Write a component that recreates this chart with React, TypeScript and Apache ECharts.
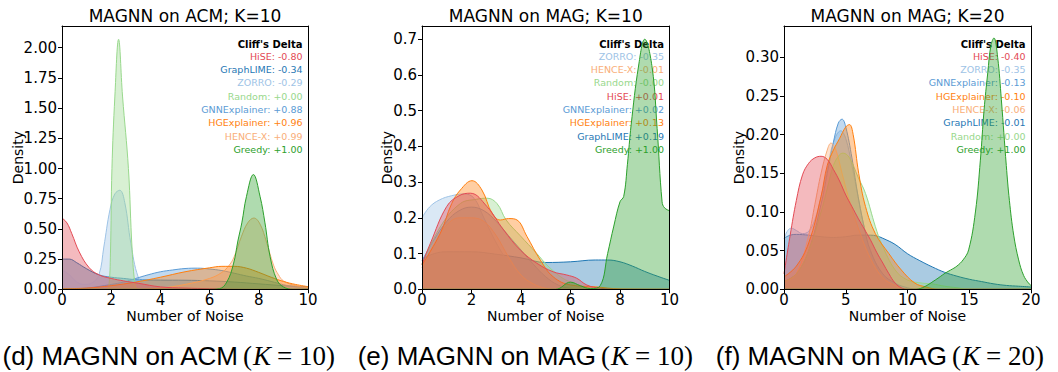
import React, { useEffect, useRef } from "react";
import * as echarts from "echarts";

// ---------- DATA ----------
// drawing order (first drawn at the bottom)
const methods = ["GraphLIME", "ZORRO", "GNNExplainer", "HENCE-X", "Random", "HGExplainer", "HiSE", "Greedy"];

// Panel (d): MAGNN on ACM, K=10
const acmHiSE = [[0,0.59],[0.2,0.55],[0.4,0.46],[0.7,0.31],[1.1,0.18],[1.5,0.12],[2,0.09],[2.5,0.07],[3.1,0.05],[4,0.02],[5,0.01],[6,0.005],[7,0.001],[8,0],[10,0]];
const acmGraphLIME = [[0,0.25],[0.3,0.25],[0.6,0.22],[1,0.17],[1.5,0.12],[2,0.1],[2.5,0.09],[3,0.08],[4,0.076],[5,0.075],[6,0.07],[7,0.06],[8,0.045],[9,0.03],[10,0.02]];
const acmZORRO = [[0,0.16],[0.3,0.12],[0.6,0.06],[0.9,0.04],[1.2,0.05],[1.5,0.12],[1.7,0.35],[1.95,0.66],[2.15,0.79],[2.35,0.82],[2.55,0.72],[2.8,0.38],[3.1,0.1],[3.4,0.03],[4,0.01],[5,0.002],[6,0],[10,0]];
const acmRandom = [[0,0],[1.8,0],[1.9,0.02],[1.97,0.3],[2.03,1.0],[2.15,1.6],[2.3,2.07],[2.46,1.6],[2.7,1.0],[2.85,0.33],[2.98,0.03],[3.1,0],[10,0]];
const acmGNNExplainer = [[0,0],[1,0.01],[2,0.04],[2.5,0.06],[3,0.09],[3.5,0.12],[4,0.145],[4.5,0.16],[5,0.172],[5.5,0.175],[6,0.168],[6.5,0.155],[7,0.133],[7.5,0.11],[8,0.09],[8.5,0.065],[9,0.038],[9.5,0.02],[10,0.01]];
const acmHGExplainer = [[0,0.005],[1,0.01],[2,0.03],[3,0.06],[4,0.1],[5,0.145],[6,0.178],[6.5,0.19],[7,0.19],[7.5,0.175],[8,0.14],[8.5,0.1],[9,0.065],[9.5,0.04],[10,0.022]];
const acmHENCEX = [[0,0],[3,0],[4,0.01],[5,0.04],[6,0.09],[6.5,0.14],[6.8,0.2],[7,0.27],[7.3,0.44],[7.55,0.55],[7.8,0.59],[8.05,0.54],[8.3,0.4],[8.6,0.2],[8.8,0.12],[9,0.07],[9.5,0.03],[10,0.015]];
const acmGreedy = [[0,0],[6,0],[6.4,0.005],[6.7,0.06],[6.97,0.21],[7.15,0.4],[7.31,0.55],[7.5,0.77],[7.78,0.95],[8.05,0.77],[8.25,0.55],[8.46,0.27],[8.73,0.08],[9,0.02],[9.4,0],[10,0]];
const acmLegendNames = ["HiSE", "GraphLIME", "ZORRO", "Random", "GNNExplainer", "HGExplainer", "HENCE-X", "Greedy"];
const acmLegendValues = ["-0.80", "-0.34", "-0.29", "+0.00", "+0.88", "+0.96", "+0.99", "+1.00"];

// Panel (e): MAGNN on MAG, K=10
const magZORRO = [[0,0.2],[0.3,0.23],[0.7,0.25],[1.2,0.262],[1.7,0.267],[2.1,0.255],[2.5,0.2],[3,0.13],[3.5,0.075],[4,0.035],[4.5,0.012],[5,0.004],[5.5,0],[10,0]];
const magHENCEX = [[0,0.06],[0.5,0.13],[1,0.18],[1.5,0.2],[2,0.2],[2.5,0.19],[3,0.15],[3.5,0.09],[4,0.04],[4.5,0.015],[5,0.003],[5.5,0],[10,0]];
const magRandom = [[0,0.07],[0.74,0.175],[1.55,0.24],[2.2,0.252],[2.63,0.255],[3.03,0.24],[3.4,0.194],[3.97,0.15],[4.64,0.1],[5.05,0.068],[5.6,0.035],[6,0.02],[6.5,0.008],[7,0.002],[7.5,0],[10,0]];
const magHiSE = [[0,0.07],[0.34,0.129],[1,0.232],[1.5,0.262],[1.95,0.269],[2.62,0.232],[3.3,0.166],[3.97,0.11],[4.64,0.073],[5.3,0.049],[5.85,0.04],[6.25,0.031],[6.66,0.012],[7.2,0.003],[8,0],[10,0]];
const magGNNExplainer = [[0,0.08],[0.5,0.14],[1,0.19],[1.5,0.22],[2,0.23],[2.5,0.22],[3,0.19],[3.5,0.15],[4,0.11],[4.5,0.07],[5,0.035],[5.5,0.012],[6,0.003],[6.5,0],[10,0]];
const magHGExplainer = [[0,0.068],[0.74,0.157],[1.2,0.24],[1.55,0.278],[2.02,0.304],[2.42,0.278],[2.83,0.213],[3.16,0.194],[3.5,0.198],[3.84,0.194],[4.24,0.148],[4.78,0.082],[5.3,0.035],[6,0.012],[7,0.007],[8,0.001],[10,0]];
const magGraphLIME = [[0,0.085],[0.5,0.1],[1,0.105],[2,0.105],[3,0.098],[4,0.088],[5,0.075],[6,0.077],[7,0.082],[7.5,0.082],[8,0.077],[8.5,0.065],[9,0.05],[9.5,0.037],[10,0.025]];
const magGreedy = [[0,0],[5.4,0],[6,0.02],[6.4,0.01],[6.8,0.002],[7.2,0.01],[7.5,0.1],[7.75,0.177],[8.0,0.245],[8.15,0.26],[8.3,0.35],[8.45,0.46],[8.75,0.625],[9,0.7],[9.3,0.62],[9.5,0.45],[9.7,0.245],[9.8,0.228],[10,0.22]];
const magLegendNames = ["ZORRO", "HENCE-X", "Random", "HiSE", "GNNExplainer", "HGExplainer", "GraphLIME", "Greedy"];
const magLegendValues = ["-0.35", "-0.01", "-0.00", "+0.01", "+0.02", "+0.13", "+0.19", "+1.00"];

// Panel (f): MAGNN on MAG, K=20
const m20HiSE = [[0,0.02],[0.5,0.07],[1,0.115],[1.5,0.148],[2,0.163],[2.5,0.17],[3,0.172],[3.5,0.168],[4,0.155],[4.5,0.14],[5,0.122],[5.5,0.107],[6,0.092],[6.5,0.078],[7,0.064],[7.5,0.048],[8,0.034],[8.5,0.02],[9,0.008],[9.5,0.002],[10,0],[20,0]];
const m20ZORRO = [[0,0.065],[0.3,0.076],[0.6,0.079],[1,0.076],[1.5,0.072],[2,0.075],[2.5,0.09],[3,0.12],[3.5,0.155],[4,0.19],[4.6,0.205],[5,0.195],[5.5,0.16],[6,0.12],[6.5,0.08],[7,0.05],[7.5,0.03],[8,0.015],[9,0.005],[10,0],[20,0]];
const m20GNNExplainer = [[0,0.01],[1,0.02],[2,0.05],[3,0.11],[3.5,0.15],[4,0.19],[4.4,0.215],[4.7,0.22],[5,0.21],[5.5,0.17],[6,0.12],[6.5,0.08],[7,0.05],[8,0.02],[9,0.008],[10,0.002],[11,0],[20,0]];
const m20HGExplainer = [[0,0.016],[1,0.03],[2,0.06],[3,0.12],[3.5,0.16],[4,0.18],[4.5,0.195],[5,0.21],[5.3,0.213],[5.6,0.2],[6.05,0.15],[6.6,0.107],[7.4,0.072],[8.5,0.046],[9.5,0.025],[10.6,0.008],[11.5,0.003],[12.5,0],[20,0]];
const m20HENCEX = [[0,0.01],[1,0.02],[2,0.07],[2.5,0.11],[3,0.15],[3.5,0.18],[3.8,0.189],[4.2,0.18],[4.7,0.15],[5.2,0.12],[6,0.08],[7,0.04],[8,0.015],[9,0.005],[10,0],[20,0]];
const m20GraphLIME = [[0,0.066],[0.5,0.07],[1,0.071],[2,0.07],[3,0.068],[4,0.067],[5,0.068],[6,0.07],[7,0.07],[7.5,0.069],[8,0.066],[9,0.058],[10,0.046],[11,0.037],[12,0.029],[13,0.022],[14,0.017],[15,0.013],[16,0.01],[17,0.007],[18,0.005],[19,0.004],[20,0.003]];
const m20Random = [[0,0.01],[1,0.02],[2,0.05],[3,0.1],[3.5,0.13],[4,0.16],[4.5,0.174],[4.8,0.176],[5.3,0.17],[6,0.145],[6.6,0.124],[7.4,0.081],[7.9,0.059],[9,0.025],[10,0.012],[11.2,0.008],[12,0.007],[13,0.004],[14,0.002],[15,0],[20,0]];
const m20Greedy = [[0,0],[10.5,0],[11.2,0.002],[12.25,0.012],[13.06,0.021],[13.5,0.025],[14,0.03],[14.5,0.038],[14.95,0.051],[15.5,0.1],[15.9,0.167],[16.2,0.232],[16.5,0.28],[16.75,0.315],[17,0.325],[17.3,0.3],[17.6,0.245],[18,0.16],[18.25,0.115],[18.6,0.07],[19,0.038],[19.4,0.018],[19.8,0.008],[20,0.005]];
const m20LegendNames = ["HiSE", "ZORRO", "GNNExplainer", "HGExplainer", "HENCE-X", "GraphLIME", "Random", "Greedy"];
const m20LegendValues = ["-0.40", "-0.35", "-0.13", "-0.10", "-0.06", "-0.01", "+0.00", "+1.00"];

const xTicks10 = [0, 2, 4, 6, 8, 10];
const xTicks20 = [0, 5, 10, 15, 20];
const acmYTicks = [0, 0.25, 0.5, 0.75, 1.0, 1.25, 1.5, 1.75, 2.0];
const magYTicks = [0, 0.1, 0.2, 0.3, 0.4, 0.5, 0.6, 0.7];
const m20YTicks = [0, 0.05, 0.1, 0.15, 0.2, 0.25, 0.3];

const titles = ["MAGNN on ACM; K=10", "MAGNN on MAG; K=10", "MAGNN on MAG; K=20"];
const captionLabels = ["(d) MAGNN on ACM", "(e) MAGNN on MAG", "(f) MAGNN on MAG"];
const captionK = ["10", "10", "20"];

// ---------- STYLE ----------
const COLORS: Record<string, string> = {
  HiSE: "#e34a54",
  GraphLIME: "#1f77b4",
  ZORRO: "#9ec3e6",
  Random: "#98d88c",
  GNNExplainer: "#5b9bd5",
  HGExplainer: "#ff7f0e",
  "HENCE-X": "#f9ae78",
  Greedy: "#2ca02c",
};

const panels = [
  {
    curves: { HiSE: acmHiSE, GraphLIME: acmGraphLIME, ZORRO: acmZORRO, Random: acmRandom, GNNExplainer: acmGNNExplainer, HGExplainer: acmHGExplainer, "HENCE-X": acmHENCEX, Greedy: acmGreedy } as Record<string, number[][]>,
    xMax: 10, xTicks: xTicks10, yMax: 2.18, yTicks: acmYTicks, digits: 2,
    names: acmLegendNames, values: acmLegendValues,
    left: 62, right: 308, nameGap: 37, capSplit: 243,
  },
  {
    curves: { HiSE: magHiSE, GraphLIME: magGraphLIME, ZORRO: magZORRO, Random: magRandom, GNNExplainer: magGNNExplainer, HGExplainer: magHGExplainer, "HENCE-X": magHENCEX, Greedy: magGreedy } as Record<string, number[][]>,
    xMax: 10, xTicks: xTicks10, yMax: 0.737, yTicks: magYTicks, digits: 1,
    names: magLegendNames, values: magLegendValues,
    left: 422, right: 669.5, nameGap: 28, capSplit: 601,
  },
  {
    curves: { HiSE: m20HiSE, GraphLIME: m20GraphLIME, ZORRO: m20ZORRO, Random: m20Random, GNNExplainer: m20GNNExplainer, HGExplainer: m20HGExplainer, "HENCE-X": m20HENCEX, Greedy: m20Greedy } as Record<string, number[][]>,
    xMax: 20, xTicks: xTicks20, yMax: 0.3405, yTicks: m20YTicks, digits: 2,
    names: m20LegendNames, values: m20LegendValues,
    left: 784, right: 1031, nameGap: 38, capSplit: 952,
  },
];

const TOP = 26;
const BOTTOM = 289.3;
const FONT = "DejaVu Sans";
const CAP_Y = 356;

export default function App() {
  const ref = useRef<HTMLDivElement>(null);
  useEffect(() => {
    if (!ref.current) return;
    const chart = echarts.init(ref.current, null, { renderer: "svg" });
    const grid: any[] = [];
    const xAxis: any[] = [];
    const yAxis: any[] = [];
    const series: any[] = [];
    const graphic: any[] = [];

    panels.forEach((p, i) => {
      grid.push({ left: p.left, top: TOP, width: p.right - p.left, height: BOTTOM - TOP, show: false, containLabel: false });
      const axisLine = { show: true, onZero: false, lineStyle: { color: "#000", width: 1 } };
      xAxis.push({
        type: "value", gridIndex: i, min: 0, max: p.xMax, position: "bottom", z: 30,
        name: "Number of Noise", nameLocation: "middle", nameGap: 20, nameMoveOverlap: false,
        nameTextStyle: { fontFamily: FONT, fontSize: 14, color: "#000" },
        axisLine,
        axisTick: { show: true, length: 4, inside: false, customValues: p.xTicks, lineStyle: { color: "#000" } },
        axisLabel: { show: true, customValues: p.xTicks, margin: 3, fontFamily: FONT, fontSize: 15, color: "#000" },
        splitLine: { show: false },
      });
      xAxis.push({
        type: "value", gridIndex: i, min: 0, max: p.xMax, position: "top", z: 30,
        axisLine, axisTick: { show: false }, axisLabel: { show: false }, splitLine: { show: false },
      });
      yAxis.push({
        type: "value", gridIndex: i, min: 0, max: p.yMax, position: "left", z: 30,
        name: "Density", nameLocation: "middle", nameGap: p.nameGap, nameMoveOverlap: false,
        nameTextStyle: { fontFamily: FONT, fontSize: 14, color: "#000" },
        axisLine,
        axisTick: { show: true, length: 4, inside: false, customValues: p.yTicks, lineStyle: { color: "#000" } },
        axisLabel: {
          show: true, customValues: p.yTicks, margin: 5, fontFamily: FONT, fontSize: 15, color: "#000",
          formatter: (v: number) => v.toFixed(p.digits),
        },
        splitLine: { show: false },
      });
      yAxis.push({
        type: "value", gridIndex: i, min: 0, max: p.yMax, position: "right", z: 30,
        axisLine, axisTick: { show: false }, axisLabel: { show: false }, splitLine: { show: false },
      });

      methods.forEach((m, k) => {
        series.push({
          type: "line",
          name: m + i,
          xAxisIndex: i * 2,
          yAxisIndex: i * 2,
          data: p.curves[m],
          smooth: 0.4,
          showSymbol: false,
          symbol: "none",
          silent: true,
          z: 2 + k,
          lineStyle: { color: COLORS[m], width: 1 },
          itemStyle: { color: COLORS[m] },
          areaStyle: { color: COLORS[m], opacity: 0.38 },
        });
      });

      // title
      graphic.push({
        type: "text", x: (p.left + p.right) / 2, y: 15.7, z: 1,
        style: { text: titles[i], fontFamily: FONT, fontSize: 17, fill: "#000", textAlign: "center", textVerticalAlign: "middle" },
      });
      // Cliff's delta annotation
      const rx = p.right - 5.5;
      graphic.push({
        type: "text", x: rx, y: 44, z: 1,
        style: { text: "Cliff's Delta", fontFamily: FONT, fontSize: 10, fontWeight: "bold", fill: "#000", textAlign: "right", textVerticalAlign: "middle" },
      });
      p.names.forEach((n, k) => {
        graphic.push({
          type: "text", x: rx, y: 56.3 + k * 13.33, z: 1,
          style: { text: n + ": " + p.values[k], fontFamily: FONT, fontSize: 9.5, fill: COLORS[n], textAlign: "right", textVerticalAlign: "middle" },
        });
      });
      // caption: sans part, then the math part
      graphic.push({
        type: "text", x: p.capSplit - 5, y: CAP_Y, z: 1,
        style: { text: captionLabels[i], fontFamily: "Liberation Sans", fontSize: 26, fill: "#000", textAlign: "right", textVerticalAlign: "middle" },
      });
      graphic.push({
        type: "text", x: p.capSplit, y: CAP_Y, z: 1,
        style: { text: "(", fontFamily: "Liberation Serif", fontSize: 27, fill: "#000", textAlign: "left", textVerticalAlign: "middle" },
      });
      graphic.push({
        type: "text", x: p.capSplit + 10, y: CAP_Y, z: 1,
        style: { text: "K", fontFamily: "Liberation Serif", fontStyle: "italic", fontSize: 27, fill: "#000", textAlign: "left", textVerticalAlign: "middle" },
      });
      graphic.push({
        type: "text", x: p.capSplit + 34, y: CAP_Y, z: 1,
        style: { text: "= " + captionK[i] + ")", fontFamily: "Liberation Serif", fontSize: 27, fill: "#000", textAlign: "left", textVerticalAlign: "middle" },
      });
    });

    chart.setOption({
      animation: false,
      backgroundColor: "#fff",
      grid, xAxis, yAxis, series, graphic,
    });
    return () => chart.dispose();
  }, []);
  return <div ref={ref} style={{ position: "fixed", left: 0, top: 0, width: 1058, height: 372 }} />;
}
